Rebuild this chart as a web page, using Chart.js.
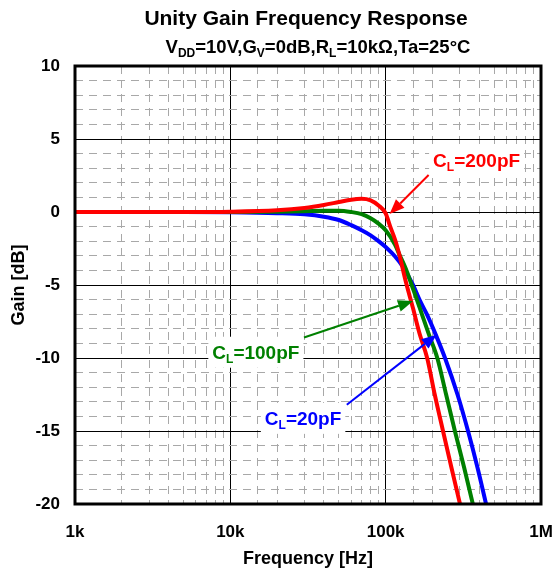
<!DOCTYPE html>
<html>
<head>
<meta charset="utf-8">
<script src="https://cdn.jsdelivr.net/npm/chart.js@4.4.1/dist/chart.umd.min.js"></script>
<style>
  html, body { margin: 0; padding: 0; background: #fff; }
  #wrap { width: 552px; height: 573px; }
</style>
</head>
<body>
<div id="wrap"><canvas id="c" width="552" height="573"></canvas></div>
<script>
// ----- data -----
const freqRed  = [1000, 5000, 10000, 20000, 30000, 40000, 50000, 60000, 70000, 80000, 90000, 100000, 107000, 115000, 123000, 135000, 150000, 165000, 185000, 207000, 234000, 265000, 301000];
const gainRed  = [0, 0, 0.02, 0.12, 0.28, 0.48, 0.68, 0.84, 0.9, 0.8, 0.45, -0.1, -1.0, -1.9, -3.0, -4.8, -6.6, -8.3, -10, -12.5, -15, -17.5, -20];

const freqGreen = [1000, 5000, 10000, 20000, 30000, 40000, 50000, 60000, 70000, 80000, 90000, 100000, 115000, 123000, 135000, 147000, 160000, 171000, 190000, 215000, 245000, 279000, 320000, 364000];
const gainGreen = [0, 0, 0, 0.02, 0.05, 0.08, 0.09, 0, -0.15, -0.43, -0.8, -1.25, -2.25, -2.95, -3.9, -5.0, -6.1, -7.0, -8.4, -10, -12.5, -15, -17.5, -20];

const freqBlue = [1000, 5000, 10000, 20000, 30000, 40000, 50000, 60000, 70000, 80000, 90000, 100000, 115000, 130000, 150000, 165000, 184000, 210000, 241000, 290000, 339000, 390000, 443000];
const gainBlue = [0, 0, -0.02, -0.08, -0.16, -0.32, -0.55, -0.9, -1.25, -1.6, -2.0, -2.4, -3.05, -3.8, -5.0, -6.0, -7.0, -8.4, -10, -12.5, -15, -17.5, -20];

const xTickLabels = { 1000: '1k', 10000: '10k', 100000: '100k', 1000000: '1M' };

const titleText = 'Unity Gain Frequency Response';
// [text, isSubscript]
const subtitleParts = [['V'], ['DD', 1], ['=10V,G'], ['V', 1], ['=0dB,R'], ['L', 1], ['=10kΩ,Ta=25°C']];

// callouts: label, colour, label centre (Hz, dB), arrow tail, arrow tip
const calloutLabels = ['200pF', '100pF', '20pF'];
const calloutColors = ['#ff0000', '#008000', '#0000ff'];
const calloutTextAt = [[385000, 3.56], [14600, -9.57], [29400, -14.1]];
const calloutTail   = [[189000, 2.53], [29800, -8.6], [56200, -13.2]];
const calloutTip    = [[106000, -0.14], [150000, -6.1], [213000, -8.4]];

const FONT = '"Liberation Sans", Arial, sans-serif';
Chart.defaults.font.family = FONT;
Chart.defaults.color = '#000';

function pts(xs, ys) { return xs.map((x, i) => ({ x: x, y: ys[i] })); }

function richWidth(ctx, parts, size, subSize) {
  let w = 0;
  parts.forEach(p => {
    ctx.font = 'bold ' + (p[1] ? subSize : size) + 'px ' + FONT;
    w += ctx.measureText(p[0]).width;
  });
  return w;
}

// cy = middle of the capitals
function drawRich(ctx, parts, cx, cy, size, subSize, color) {
  const w = richWidth(ctx, parts, size, subSize);
  let x = cx - w / 2;
  const base = cy + size * 0.36;
  ctx.fillStyle = color;
  ctx.textBaseline = 'alphabetic';
  ctx.textAlign = 'left';
  parts.forEach(p => {
    ctx.font = 'bold ' + (p[1] ? subSize : size) + 'px ' + FONT;
    ctx.fillText(p[0], x, p[1] ? base + size * 0.22 : base);
    x += ctx.measureText(p[0]).width;
  });
  return w;
}

function arrow(ctx, x1, y1, x2, y2, color) {
  const a = Math.atan2(y2 - y1, x2 - x1);
  const len = 15, half = 6;
  const bx = x2 - len * Math.cos(a), by = y2 - len * Math.sin(a);
  ctx.strokeStyle = color;
  ctx.lineWidth = 2;
  ctx.beginPath();
  ctx.moveTo(x1, y1);
  ctx.lineTo(bx, by);
  ctx.stroke();
  ctx.fillStyle = color;
  ctx.beginPath();
  ctx.moveTo(x2, y2);
  ctx.lineTo(bx + half * Math.sin(a), by - half * Math.cos(a));
  ctx.lineTo(bx - half * Math.sin(a), by + half * Math.cos(a));
  ctx.closePath();
  ctx.fill();
}

const decorations = {
  id: 'decorations',
  afterDatasetsDraw(chart) {
    const ctx = chart.ctx, xs = chart.scales.x, ys = chart.scales.y;
    ctx.save();
    calloutLabels.forEach((lab, i) => {
      const parts = [['C'], ['L', 1], ['=' + lab]];
      const cx = xs.getPixelForValue(calloutTextAt[i][0]);
      const cy = ys.getPixelForValue(calloutTextAt[i][1]);
      const w = richWidth(ctx, parts, 19, 12);
      ctx.fillStyle = '#fff';
      ctx.fillRect(cx - w / 2 - 4, cy - 15, w + 8, 31);
      drawRich(ctx, parts, cx, cy, 19, 12, calloutColors[i]);
      arrow(ctx,
        xs.getPixelForValue(calloutTail[i][0]), ys.getPixelForValue(calloutTail[i][1]),
        xs.getPixelForValue(calloutTip[i][0]), ys.getPixelForValue(calloutTip[i][1]),
        calloutColors[i]);
    });
    ctx.restore();
  },
  afterDraw(chart) {
    const ctx = chart.ctx, a = chart.chartArea;
    ctx.save();
    ctx.strokeStyle = '#000';
    ctx.lineWidth = 3;
    ctx.strokeRect(a.left, a.top, a.right - a.left, a.bottom - a.top);
    ctx.fillStyle = '#000';
    ctx.font = 'bold 21px ' + FONT;
    ctx.textAlign = 'center';
    ctx.textBaseline = 'alphabetic';
    ctx.fillText(titleText, 306, 25);
    drawRich(ctx, subtitleParts, 318, 46, 18.5, 12, '#000');
    ctx.restore();
  }
};

const isMajorX = v => Math.abs(Math.log10(v) - Math.round(Math.log10(v))) < 1e-6;
const isMajorY = v => Math.abs(v % 5) < 1e-6;

new Chart(document.getElementById('c'), {
  type: 'line',
  data: {
    datasets: [
      { label: 'CL=200pF', data: pts(freqRed, gainRed), borderColor: '#ff0000' },
      { label: 'CL=100pF', data: pts(freqGreen, gainGreen), borderColor: '#008000' },
      { label: 'CL=20pF', data: pts(freqBlue, gainBlue), borderColor: '#0000ff' }
    ]
  },
  options: {
    responsive: false,
    animation: false,
    devicePixelRatio: 1,
    layout: { padding: { top: 66, right: 11, left: 0, bottom: 0 } },
    elements: {
      line: { borderWidth: 4, cubicInterpolationMode: 'monotone', fill: false },
      point: { radius: 0 }
    },
    plugins: { legend: { display: false }, tooltip: { enabled: false } },
    scales: {
      x: {
        type: 'logarithmic',
        min: 1000,
        max: 1000000,
        afterFit(s) { s.height = 69; s.paddingLeft = 0; s.paddingRight = 0; },
        ticks: {
          autoSkip: false,
          maxRotation: 0,
          padding: 18,
          font: { size: 17, weight: 'bold' },
          callback: v => xTickLabels[v] || ''
        },
        grid: {
          drawTicks: false,
          color: c => isMajorX(c.tick.value) ? '#000' : '#a8a8a8',
          lineWidth: 1
        },
        border: { display: false, dash: c => (c.tick && isMajorX(c.tick.value)) ? [] : [8, 6] },
        title: { display: true, text: 'Frequency [Hz]', font: { size: 18, weight: 'bold' }, padding: { top: 0, bottom: 3 } }
      },
      y: {
        min: -20,
        max: 10,
        afterFit(s) { s.width = 75; s.paddingTop = 0; s.paddingBottom = 0; },
        ticks: {
          stepSize: 1,
          autoSkip: false,
          padding: 15,
          font: { size: 17, weight: 'bold' },
          callback: v => isMajorY(v) ? String(v) : ''
        },
        grid: {
          drawTicks: false,
          color: c => isMajorY(c.tick.value) ? '#000' : '#a8a8a8',
          lineWidth: 1
        },
        border: { display: false, dash: c => (c.tick && isMajorY(c.tick.value)) ? [] : [8, 6] },
        title: { display: true, text: 'Gain [dB]', font: { size: 18, weight: 'bold' }, padding: { top: 8, bottom: 0 } }
      }
    }
  },
  plugins: [decorations]
});
</script>
</body>
</html>
